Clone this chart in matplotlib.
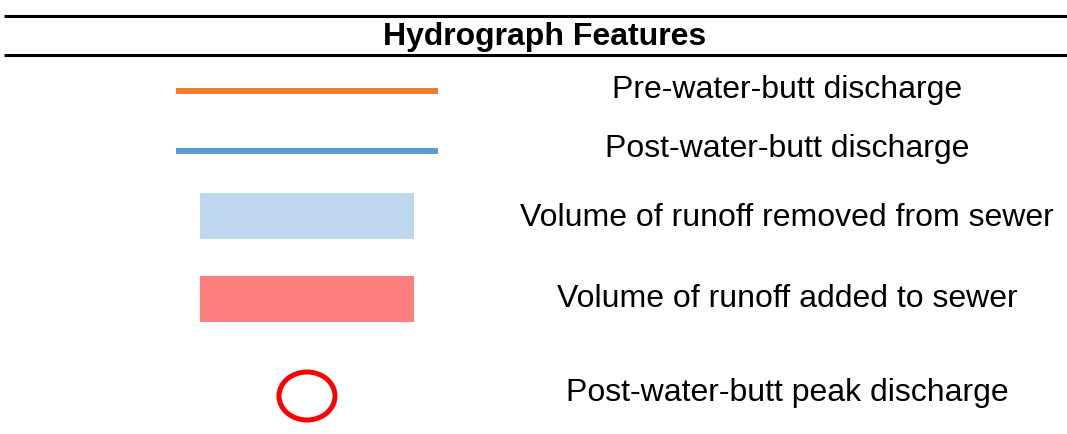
import matplotlib
matplotlib.use("Agg")
import matplotlib.pyplot as plt
from matplotlib.patches import Rectangle, Ellipse

plt.rcParams["font.family"] = ["Liberation Sans", "DejaVu Sans"]

title = "Hydrograph Features"
labels = [
    "Pre-water-butt discharge",
    "Post-water-butt discharge",
    "Volume of runoff removed from sewer",
    "Volume of runoff added to sewer",
    "Post-water-butt peak discharge",
]
kinds = ["line", "line", "patch", "patch", "circle"]
colors = ["#ED7D31", "#5B9BD5", "#BDD7EE", "#FF7F7F", "#FF0000"]

# layout in pixel coordinates (y downwards)
W, H = 1067, 434
row_y = [91, 151, 216, 299, 396]
baseline_y = [98, 157, 226, 307, 401]
text_x = 787

fig = plt.figure(figsize=(W / 100, H / 100), dpi=100)
ax = fig.add_axes([0, 0, 1, 1])
ax.set_xlim(0, W)
ax.set_ylim(H, 0)
ax.axis("off")

# header rules and title
ax.plot([4, W], [15.5, 15.5], color="black", linewidth=2.2, solid_capstyle="butt")
ax.plot([4, W], [55, 55], color="black", linewidth=2.2, solid_capstyle="butt")
ax.text(545, 45, title, ha="center", va="baseline", fontsize=23, fontweight="bold")

for y, by, kind, color, label in zip(row_y, baseline_y, kinds, colors, labels):
    if kind == "line":
        ax.plot([176, 438], [y, y], color=color, linewidth=4.3, solid_capstyle="butt")
    elif kind == "patch":
        ax.add_patch(Rectangle((200, y - 23), 214, 46, facecolor=color, edgecolor="none"))
    else:
        ax.add_patch(Ellipse((307, y), 56, 48, facecolor="none", edgecolor=color, linewidth=3.6))
    ax.text(text_x, by, label, ha="center", va="baseline", fontsize=23)

fig.savefig("out.png", dpi=100)
